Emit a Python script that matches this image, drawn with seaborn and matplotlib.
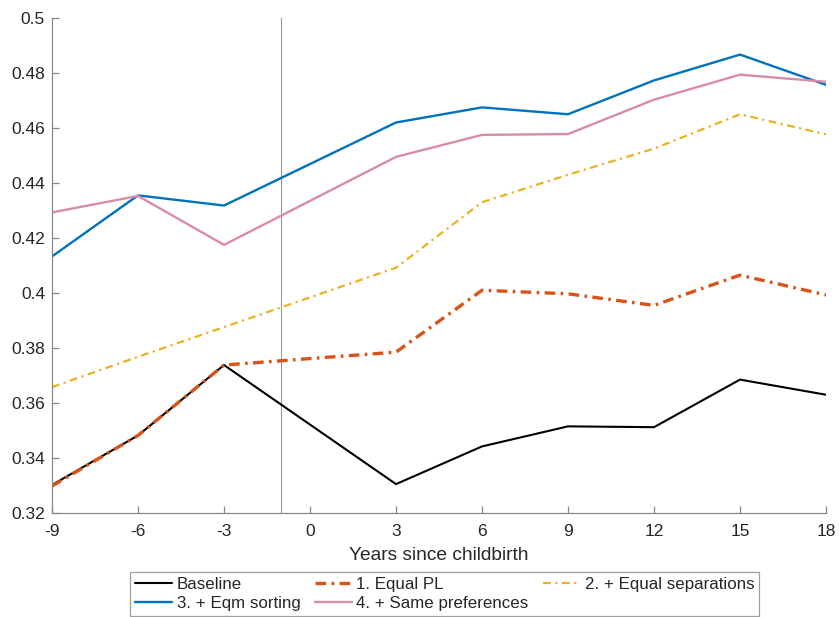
import matplotlib
matplotlib.use("Agg")
import matplotlib.pyplot as plt
import seaborn as sns
import pandas as pd

years = [-9, -6, -3, 3, 6, 9, 12, 15, 18]
baseline = [0.3302, 0.3482, 0.3738, 0.3305, 0.3442, 0.3515, 0.3512, 0.3685, 0.3630]
equal_pl = [0.3298, 0.3482, 0.3738, 0.3785, 0.4010, 0.3997, 0.3955, 0.4065, 0.3993]
equal_sep = [0.3658, 0.3768, 0.3876, 0.4092, 0.4330, 0.4430, 0.4525, 0.4650, 0.4577]
eqm_sorting = [0.4133, 0.4355, 0.4318, 0.4620, 0.4675, 0.4650, 0.4773, 0.4867, 0.4757]
same_pref = [0.4293, 0.4353, 0.4175, 0.4495, 0.4575, 0.4578, 0.4703, 0.4794, 0.4768]

labels = ["Baseline", "1. Equal PL", "2. + Equal separations",
          "3. + Eqm sorting", "4. + Same preferences"]
xticks = [-9, -6, -3, 0, 3, 6, 9, 12, 15, 18]
yticks = [0.32, 0.34, 0.36, 0.38, 0.4, 0.42, 0.44, 0.46, 0.48, 0.5]
ytick_labels = ["0.32", "0.34", "0.36", "0.38", "0.4", "0.42", "0.44", "0.46", "0.48", "0.5"]

sns.set_theme(style="ticks")
plt.rcParams["font.family"] = ["Liberation Sans", "DejaVu Sans"]
plt.rcParams["axes.unicode_minus"] = False

fig = plt.figure(figsize=(8.39, 6.17), dpi=100)
ax = fig.add_axes([0.062, 0.1686, 0.9225, 0.8022])

series = [
    (baseline, "#000000", 1.5, "-"),
    (equal_pl, "#D95319", 2.4, (0, (3.2, 1.6, 0.8, 1.6))),
    (equal_sep, "#EDB120", 1.6, (0, (3.5, 2.0, 1.0, 2.0))),
    (eqm_sorting, "#0072BD", 1.7, "-"),
    (same_pref, "#D98CAA", 1.7, "-"),
]

handles = []
for (vals, color, lw, ls), lab in zip(series, labels):
    df = pd.DataFrame({"year": years, "value": vals})
    sns.lineplot(data=df, x="year", y="value", ax=ax, color=color,
                 linewidth=lw, label=lab, legend=False)
    line = ax.get_lines()[-1]
    line.set_linestyle(ls)
    handles.append(line)

ax.axvline(-1, color="#999999", linewidth=0.8, zorder=0)

ax.set_xlim(-9, 18)
ax.set_ylim(0.32, 0.5)
ax.set_xticks(xticks)
ax.set_xticklabels([str(t) for t in xticks])
ax.set_yticks(yticks)
ax.set_yticklabels(ytick_labels)
ax.set_xlabel("Years since childbirth", fontsize=13.8, color="#262626", labelpad=6)
ax.set_ylabel("")

for side in ["top", "right"]:
    ax.spines[side].set_visible(False)
for side in ["left", "bottom"]:
    ax.spines[side].set_color("#888888")
    ax.spines[side].set_linewidth(0.9)
ax.tick_params(direction="in", length=5, width=0.9, color="#888888",
               labelsize=12.5, labelcolor="#262626", pad=5)
ax.tick_params(axis="x", pad=8)

# legend fills column by column; order entries so rows read in series order
order = [0, 3, 1, 4, 2]
leg = fig.legend(handles=[handles[i] for i in order],
                 labels=[labels[i] for i in order],
                 loc="lower center", bbox_to_anchor=(0.530, 0.002), ncol=3,
                 fontsize=12.2, frameon=True, fancybox=False, edgecolor="#888888",
                 handlelength=2.2, handletextpad=0.25, columnspacing=0.85,
                 borderpad=0.28, labelspacing=0.25, borderaxespad=0.0)
leg.get_frame().set_linewidth(0.9)

fig.savefig("out.png", dpi=100, facecolor="white")
